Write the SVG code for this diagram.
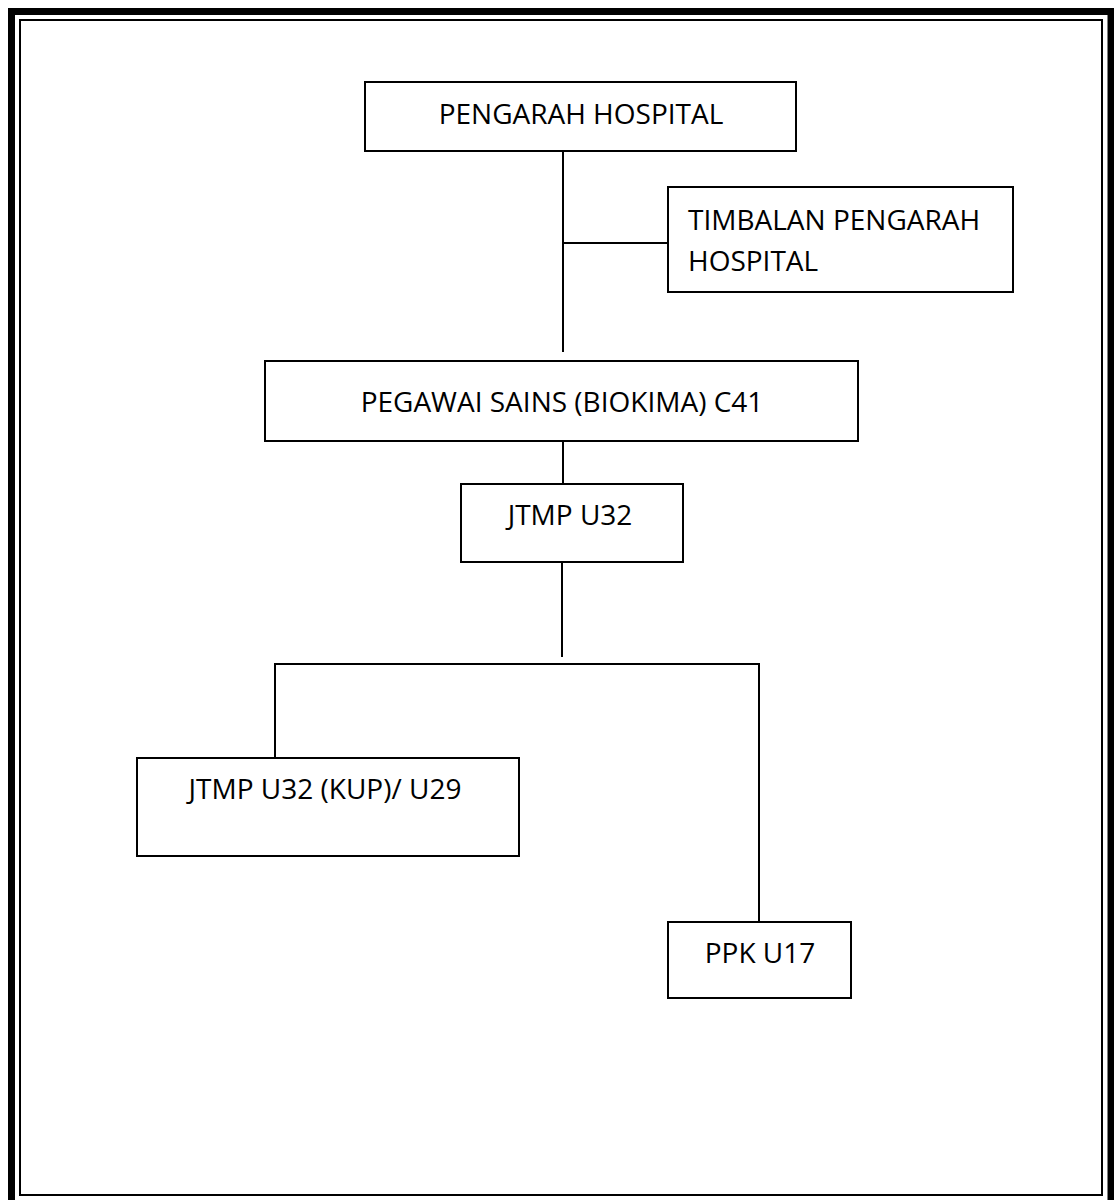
<svg xmlns="http://www.w3.org/2000/svg" width="1114" height="1200" viewBox="0 0 1114 1200">
<style>
.box{fill:#fff;stroke:#000;stroke-width:2}
.lbl{font-family:"Open Sans","Liberation Sans",sans-serif;font-size:28px;fill:#000}
.c{text-anchor:middle}
.conn line{stroke:#000;stroke-width:2}
</style>
<rect x="0" y="0" width="1114" height="1200" fill="#fff"/>
<g id="border">
<rect x="11.5" y="11.5" width="1099.5" height="1196" fill="none" stroke="#000" stroke-width="7"/>
<rect x="20" y="20" width="1082" height="1175" fill="none" stroke="#000" stroke-width="2"/>
</g>
<g id="connectors" class="conn">
<line x1="563" y1="151" x2="563" y2="352"/>
<line x1="563" y1="243" x2="668" y2="243"/>
<line x1="563" y1="441" x2="563" y2="484"/>
<line x1="562" y1="562" x2="562" y2="657"/>
<line x1="274" y1="664" x2="760" y2="664"/>
<line x1="275" y1="663" x2="275" y2="758"/>
<line x1="759" y1="663" x2="759" y2="922"/>
</g>
<g id="pengarah">
<rect class="box" x="365" y="82" width="431" height="69"/>
<text class="lbl c" x="581" y="124">PENGARAH HOSPITAL</text>
</g>
<g id="timbalan">
<rect class="box" x="668" y="187" width="345" height="105"/>
<text class="lbl" x="688" y="230">TIMBALAN PENGARAH</text>
<text class="lbl" x="688" y="271">HOSPITAL</text>
</g>
<g id="pegawai">
<rect class="box" x="265" y="361" width="593" height="80"/>
<text class="lbl c" x="562" y="412">PEGAWAI SAINS (BIOKIMA) C41</text>
</g>
<g id="jtmp">
<rect class="box" x="461" y="484" width="222" height="78"/>
<text class="lbl c" x="570" y="525">JTMP U32</text>
</g>
<g id="jtmp-kup">
<rect class="box" x="137" y="758" width="382" height="98"/>
<text class="lbl c" x="325" y="799">JTMP U32 (KUP)/ U29</text>
</g>
<g id="ppk">
<rect class="box" x="668" y="922" width="183" height="76"/>
<text class="lbl c" x="760" y="963">PPK U17</text>
</g>
</svg>
